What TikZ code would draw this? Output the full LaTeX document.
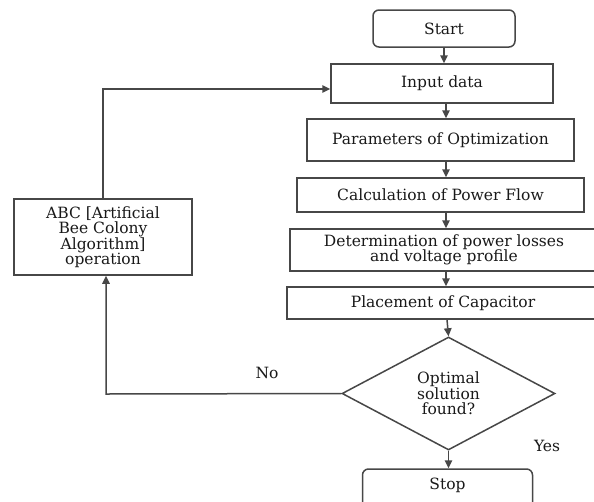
\documentclass[tikz,border=0pt]{standalone}
\usepackage{fontspec}
\setmainfont{DejaVu Serif}
\usetikzlibrary{arrows.meta,shapes.geometric}
\begin{document}
\begin{tikzpicture}[x=1pt,y=-1pt,
  every node/.style={font=\fontsize{15.5}{15.5}\selectfont,text=black!90},
  ln/.style={draw=black!72,line width=1.5pt},
  arr/.style={ln,-{Triangle[length=8pt,width=7.5pt]}},
  boxx/.style={ln,rectangle,inner sep=0pt,align=center},
  term/.style={ln,rectangle,rounded corners=6pt,inner sep=0pt,align=center},
  dec/.style={ln,diamond,inner sep=0pt,align=center}]
\useasboundingbox (0,0) rectangle (594,501);
\clip (0,0) rectangle (594,501);
\fill[white] (0,0) rectangle (594,501);
\node[term,minimum width=142pt,minimum height=37pt] (start) at (444,28.5) {Start};
\node[boxx,minimum width=222pt,minimum height=39pt] (input) at (442,83.5) {Input data};
\node[boxx,minimum width=267pt,minimum height=42pt] (params) at (440.5,140) {Parameters of Optimization};
\node[boxx,minimum width=287pt,minimum height=34pt] (calc) at (440.5,195) {Calculation of Power Flow};
\node[boxx,minimum width=308pt,minimum height=42pt] (det) at (444,250) {Determination of power losses\\and voltage profile};
\node[boxx,minimum width=312pt,minimum height=32pt] (place) at (443,303) {Placement of Capacitor};
\node[dec,minimum width=213pt,minimum height=113pt] (opt) at (448.5,393.5) {Optimal\\solution\\found?};
\node[term,minimum width=170pt,minimum height=40pt] (stop) at (447.5,489) {};
\node (stoptxt) at (447.5,485) {Stop};
\node[boxx,minimum width=178pt,minimum height=76pt] (abc) at (103,237) {ABC [Artificial\\Bee Colony\\Algorithm]\\operation};
\node (no) at (267,373) {No};
\node (yes) at (547,446) {Yes};
\coordinate (c1) at (106,394);
\coordinate (c2) at (103,89);
\draw[arr] (start.south) -- (start.south |- input.north);
\draw[arr] (input.south -| 446,0) -- (params.north -| 446,0);
\draw[arr] (params.south -| 446,0) -- (calc.north -| 446,0);
\draw[arr] (calc.south -| 446,0) -- (det.north -| 446,0);
\draw[arr] (det.south -| 446,0) -- (place.north -| 446,0);
\draw[arr] (place.south -| 447,0) -- (opt.north);
\draw[arr] (opt.south) -- (opt.south |- stop.north);
\draw[arr] (opt.west) -- (c1) -- (c1 |- abc.south);
\draw[arr] (abc.north) -- (c2) -- (c2 -| input.west);
\end{tikzpicture}
\end{document}
